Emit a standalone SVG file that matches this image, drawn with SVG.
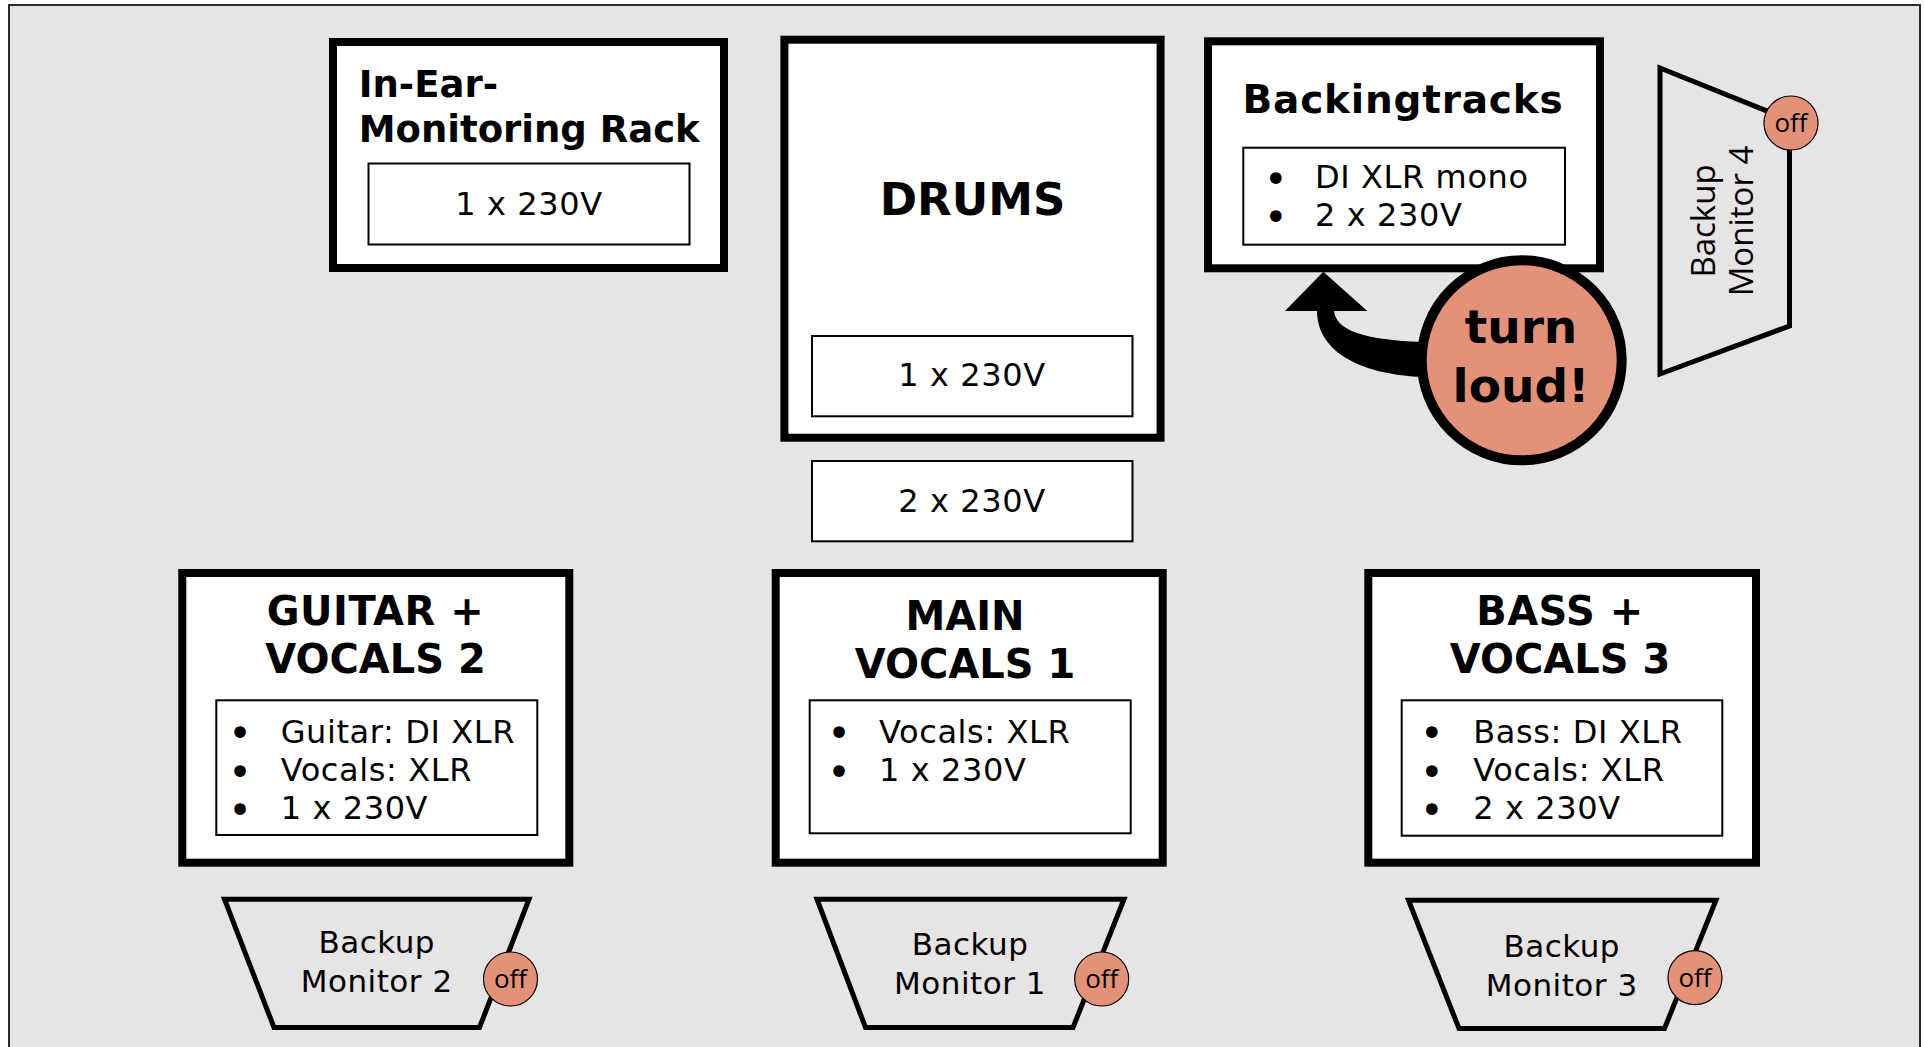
<svg xmlns="http://www.w3.org/2000/svg" width="1924" height="1047" viewBox="0 0 1924 1047">
<style>
.box{fill:#fff;stroke:#000;stroke-width:8}
.sub{fill:#fff;stroke:#000;stroke-width:2}
.mon{fill:none;stroke:#000;stroke-width:5;stroke-linejoin:miter}
.off{fill:#E4917A;stroke:#000;stroke-width:1.2}
.offt{font-family:"Open Sans","Noto Sans",sans-serif;font-size:26px;text-anchor:middle;fill:#000}
.t{font-family:"DejaVu Sans","Verdana",sans-serif;font-weight:bold;fill:#000}
.n{font-family:"DejaVu Sans","Verdana",sans-serif;font-size:32px;letter-spacing:0.6px;fill:#000}
.b{font-family:"DejaVu Sans","Verdana",sans-serif;font-size:40px;fill:#000;text-anchor:middle}
.c{text-anchor:middle}
.m{font-family:"DejaVu Sans","Verdana",sans-serif;font-size:31px;letter-spacing:0.5px;fill:#000;text-anchor:middle}
.m4{font-family:"Open Sans","Noto Sans",sans-serif;font-size:33px;fill:#000;text-anchor:middle}
</style>
<rect x="9" y="5" width="1911" height="1100" fill="#E6E4E5" stroke="#2a2a2a" stroke-width="2"/>

<g id="in-ear-rack">
<rect class="box" x="333" y="42" width="391" height="226"/>
<text class="t" font-size="37" x="358.7" y="96.7">In-Ear-</text>
<text class="t" font-size="37" x="358.7" y="141.7">Monitoring Rack</text>
<rect class="sub" x="368.5" y="163.5" width="321" height="81"/>
<text class="n c" x="529" y="215">1 x 230V</text>
</g>

<g id="drums">
<rect class="box" x="784.4" y="39.7" width="376.2" height="398"/>
<text class="t c" font-size="45" x="972.5" y="215">DRUMS</text>
<rect class="sub" x="812" y="336" width="320.5" height="80.3"/>
<text class="n c" x="972" y="386">1 x 230V</text>
</g>

<g id="drums-power">
<rect class="sub" x="812" y="461" width="320.5" height="80.3"/>
<text class="n c" x="972" y="511.7">2 x 230V</text>
</g>

<g id="backingtracks">
<rect class="box" x="1208" y="41.3" width="392" height="227"/>
<text class="t c" font-size="39" letter-spacing="0.8" x="1403" y="113.3">Backingtracks</text>
<rect class="sub" x="1243.3" y="147.7" width="321.7" height="97"/>
<text class="b" x="1275.7" y="193">•</text>
<text class="b" x="1275.7" y="231">•</text>
<text class="n" x="1315" y="188.3">DI XLR mono</text>
<text class="n" x="1315" y="226">2 x 230V</text>
</g>

<g id="connectors">
<path d="M1317,309 C1316,350 1357,374 1422,377 L1422,342 C1366,340 1334,331 1334,309 Z" fill="#000"/>
<polygon points="1323.3,271.7 1285,311 1367.3,311" fill="#000"/>
</g>

<g id="turn-loud">
<circle cx="1521.7" cy="360.3" r="100" fill="#E4917A" stroke="#000" stroke-width="10"/>
<text class="t c" font-size="47" x="1521" y="343.3">turn</text>
<text class="t c" font-size="47" x="1521" y="401.7">loud!</text>
</g>

<g id="backup-monitor-4">
<polygon class="mon" points="1660,68 1789.5,120 1789.5,326 1660,374"/>
<text class="m4" transform="translate(1715,221) rotate(-90)">Backup</text>
<text class="m4" transform="translate(1753,221) rotate(-90)">Monitor 4</text>
<circle class="off" cx="1791" cy="123" r="27"/>
<text class="offt" x="1791" y="132">off</text>
</g>

<g id="guitar-vocals-2">
<rect class="box" x="182.3" y="573" width="387" height="289.7"/>
<text class="t c" font-size="40" letter-spacing="0.5" x="375.5" y="625">GUITAR +</text>
<text class="t c" font-size="40" x="375.5" y="673">VOCALS 2</text>
<rect class="sub" x="216.3" y="700.3" width="321" height="134.7"/>
<text class="b" x="240" y="747">•</text>
<text class="b" x="240" y="785.5">•</text>
<text class="b" x="240" y="823.5">•</text>
<text class="n" x="280.7" y="742.7">Guitar: DI XLR</text>
<text class="n" x="280.7" y="781">Vocals: XLR</text>
<text class="n" x="280.7" y="819">1 x 230V</text>
</g>

<g id="main-vocals-1">
<rect class="box" x="775.7" y="573" width="387" height="289.7"/>
<text class="t c" font-size="40" x="965" y="630">MAIN</text>
<text class="t c" font-size="40" x="965" y="677.7">VOCALS 1</text>
<rect class="sub" x="809.7" y="700.3" width="321" height="133"/>
<text class="b" x="839" y="747">•</text>
<text class="b" x="839" y="785.5">•</text>
<text class="n" x="879" y="742.7">Vocals: XLR</text>
<text class="n" x="879" y="781">1 x 230V</text>
</g>

<g id="bass-vocals-3">
<rect class="box" x="1368.3" y="573" width="387.7" height="289.7"/>
<text class="t c" font-size="40" letter-spacing="0.5" x="1560" y="625">BASS +</text>
<text class="t c" font-size="40" x="1560" y="673.3">VOCALS 3</text>
<rect class="sub" x="1401.7" y="700.3" width="320.6" height="135.4"/>
<text class="b" x="1431.7" y="747">•</text>
<text class="b" x="1431.7" y="785.5">•</text>
<text class="b" x="1431.7" y="823.5">•</text>
<text class="n" x="1473.3" y="742.7">Bass: DI XLR</text>
<text class="n" x="1473.3" y="781">Vocals: XLR</text>
<text class="n" x="1473.3" y="819">2 x 230V</text>
</g>

<g id="backup-monitor-2">
<polygon class="mon" points="224.5,899.2 529,899.2 479.5,1027.5 274,1027.5"/>
<text class="m" x="376.7" y="953">Backup</text>
<text class="m" x="376.7" y="991.7">Monitor 2</text>
<circle class="off" cx="510.5" cy="979" r="27"/>
<text class="offt" x="510.5" y="988">off</text>
</g>

<g id="backup-monitor-1">
<polygon class="mon" points="817,899.2 1124,899.2 1073,1027.5 865.5,1027.5"/>
<text class="m" x="970" y="955">Backup</text>
<text class="m" x="970" y="994">Monitor 1</text>
<circle class="off" cx="1101.7" cy="979" r="27"/>
<text class="offt" x="1101.7" y="988">off</text>
</g>

<g id="backup-monitor-3">
<polygon class="mon" points="1408.5,900.2 1716,900.2 1664.5,1028.5 1459,1028.5"/>
<text class="m" x="1561.7" y="957">Backup</text>
<text class="m" x="1561.7" y="995.7">Monitor 3</text>
<circle class="off" cx="1695" cy="977.7" r="27"/>
<text class="offt" x="1695" y="986.7">off</text>
</g>
</svg>
